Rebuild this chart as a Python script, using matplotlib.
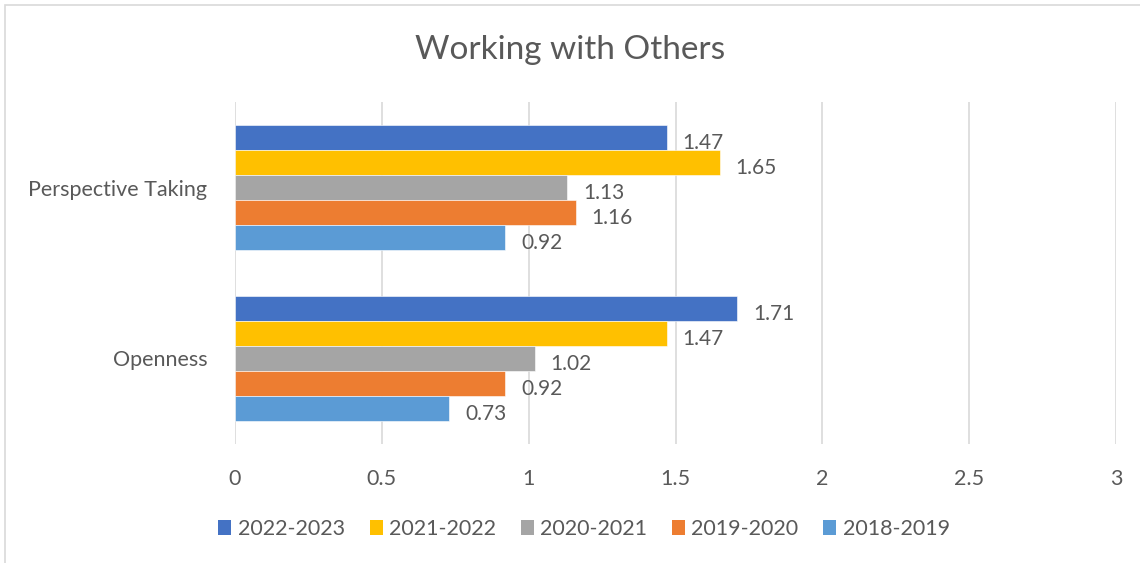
"""Working with Others - grouped horizontal bars (Excel style)."""

import matplotlib.pyplot as plt
import numpy as np
from matplotlib.patches import Patch, Rectangle

plt.rcParams['font.family'] = ['Lato', 'DejaVu Sans']

categories = ['Perspective Taking', 'Openness']
series = ['2022-2023', '2021-2022', '2020-2021', '2019-2020', '2018-2019']
values = {
    '2022-2023': [1.47, 1.71],
    '2021-2022': [1.65, 1.47],
    '2020-2021': [1.13, 1.02],
    '2019-2020': [1.16, 0.92],
    '2018-2019': [0.92, 0.73],
}
colors = ['#4472C4', '#FFC000', '#A5A5A5', '#ED7D31', '#5B9BD5']
x_ticks = [0, 0.5, 1, 1.5, 2, 2.5, 3]

text_color = '#595959'

fig = plt.figure(figsize=(11.4, 5.63), dpi=100)
ax = fig.add_axes([235 / 1140, 1 - 444 / 563, (1116 - 235) / 1140, (444 - 102) / 563])

# each category occupies 1 unit; 5 bars of 25/171 each
bar_h = 25 / 171
y_centers = np.arange(len(categories))
for i, (name, color) in enumerate(zip(series, colors)):
    offs = (i - 2) * bar_h
    ys = y_centers + offs
    bars = ax.barh(ys, values[name], height=bar_h, color=color,
                   edgecolor='white', linewidth=0.4, label=name, zorder=3)
    for b, v in zip(bars, values[name]):
        ax.annotate(f'{v:.2f}', (v, b.get_y() + b.get_height() / 2),
                    xytext=(11.5, -4), textcoords='offset points',
                    ha='left', va='center', fontsize=15, color=text_color)

ax.set_ylim(len(categories) - 0.5, -0.5)
ax.set_xlim(0, 3)
ax.set_xticks(x_ticks)
ax.set_xticklabels([f'{t:g}' for t in x_ticks])
ax.set_yticks(y_centers)
ax.set_yticklabels(categories)
ax.tick_params(axis='both', length=0, labelsize=15.5, colors=text_color)
ax.tick_params(axis='x', pad=18)
ax.tick_params(axis='y', pad=20)
ax.grid(True, axis='x', color='#D9D9D9', linewidth=1.2, zorder=0)
for s in ax.spines.values():
    s.set_visible(False)

fig.text(0.5, 1 - 50 / 563, 'Working with Others', ha='center', va='center',
         fontsize=24, color=text_color)

handles = [Patch(facecolor=c, label=n) for n, c in zip(series, colors)]
fig.legend(handles=handles, loc='center', bbox_to_anchor=(584 / 1140, 1 - 529 / 563),
           ncol=5, frameon=False, fontsize=15.5, handlelength=0.6, handleheight=0.7,
           handletextpad=0.3, columnspacing=1.15, labelcolor=text_color)

fig.patches.append(Rectangle((5 / 1140, -0.02), 1.1, 1 - 5 / 563 + 0.02,
                             transform=fig.transFigure, fill=False,
                             edgecolor='#D9D9D9', linewidth=1.2))

plt.savefig('out.png', dpi=100)
plt.close()
